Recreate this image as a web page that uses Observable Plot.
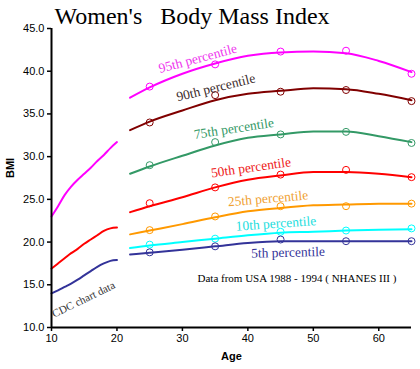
<!DOCTYPE html>
<html><head><meta charset="utf-8">
<script src="https://cdn.jsdelivr.net/npm/d3@7"></script>
<script src="https://cdn.jsdelivr.net/npm/@observablehq/plot@0.6"></script>
<style>body{margin:0;background:#fff}</style>
</head><body><div id="chart"></div>
<script>
// Adult curves (NHANES III)
const adultAges = [22, 25, 30, 35, 40, 45, 50, 55, 60, 65];
const p95 = [36.9, 38.1, 39.7, 40.9, 41.8, 42.2, 42.3, 42.1, 41.2, 39.9];
const p90 = [33.1, 34.1, 35.4, 36.6, 37.35, 37.7, 38.0, 37.9, 37.35, 36.6];
const p75 = [28.0, 28.85, 30.1, 31.3, 32.2, 32.6, 32.95, 32.95, 32.4, 31.7];
const p50 = [23.5, 24.2, 25.25, 26.4, 27.3, 27.8, 28.2, 28.2, 28.0, 27.6];
const p25 = [20.9, 21.35, 22.1, 22.9, 23.6, 24.0, 24.3, 24.4, 24.5, 24.5];
const p10 = [19.3, 19.6, 20.0, 20.4, 20.8, 21.1, 21.2, 21.35, 21.45, 21.5];
const p5  = [18.55, 18.75, 19.1, 19.5, 19.9, 20.1, 20.1, 20.1, 20.1, 20.1];

// Marker points
const markerAges = [25, 35, 45, 55, 65];
const m95 = [38.2, 40.8, 42.3, 42.4, 39.7];
const m90 = [34.0, 37.2, 37.6, 37.8, 36.5];
const m75 = [29.0, 31.7, 32.6, 32.9, 31.6];
const m50 = [24.55, 26.4, 27.9, 28.45, 27.6];
const m25 = [21.4, 23.0, 24.2, 24.2, 24.5];
const m10 = [19.7, 20.4, 21.2, 21.35, 21.6];
const m5  = [18.8, 19.5, 20.3, 20.1, 20.1];

// CDC child curves
const childAges = [10, 11, 12, 13, 14, 15, 16, 17, 18, 19, 20];
const c95 = [23.0, 24.2, 25.5, 26.5, 27.3, 28.0, 28.7, 29.5, 30.2, 31.0, 31.7];
const c50 = [16.9, 17.5, 18.1, 18.7, 19.2, 19.8, 20.3, 20.8, 21.3, 21.6, 21.7];
const c5  = [14.0, 14.35, 14.75, 15.15, 15.6, 16.1, 16.6, 17.1, 17.5, 17.8, 17.9];

const seriesNames = ["95th", "90th", "75th", "50th", "25th", "10th", "5th"];
const labelTexts = ["95th percentile", "90th percentile", "75th percentile", "50th percentile", "25th percentile", "10th percentile", "5th percentile"];
const labelAges = [32.35, 35.1, 37.86, 40.47, 43.07, 44.29, 46.13];
const labelBmi = [41.49, 38.09, 33.29, 28.73, 25.10, 22.17, 18.78];
const labelRot = [-15, -13.8, -8.7, -8, -5, -4, -1.3];

const xTicks = [10, 20, 30, 40, 50, 60];
const yTicks = [10, 15, 20, 25, 30, 35, 40, 45];

const titleText = "Women's\u00a0\u00a0\u00a0Body Mass Index";
const cdcText = "CDC chart data";
const noteText = "Data from USA 1988 - 1994 ( NHANES III )";

// styles
const lineColors = ["#ff00ff", "#800000", "#339966", "#ff0000", "#ff9900", "#00ffff", "#333399"];
const textColors = ["#ee33ee", "#3a2a2a", "#339966", "#ee2222", "#f0a030", "#22dddd", "#333399"];

const adultVals = [p95, p90, p75, p50, p25, p10, p5];
const markVals = [m95, m90, m75, m50, m25, m10, m5];
const adultRows = seriesNames.flatMap((s, i) => adultAges.map((a, j) => ({series: s, age: a, bmi: adultVals[i][j]})));
const markRows = seriesNames.flatMap((s, i) => markerAges.map((a, j) => ({series: s, age: a, bmi: markVals[i][j]})));
const childRows = [["95th", c95], ["50th", c50], ["5th", c5]].flatMap(([s, v]) => childAges.map((a, j) => ({series: s, age: a, bmi: v[j]})));
const labelRows = seriesNames.map((s, i) => ({series: s, text: labelTexts[i], age: labelAges[i], bmi: labelBmi[i], rot: labelRot[i], color: textColors[i]}));

const serif = "'Liberation Serif', 'Times New Roman', serif";
const sans = "'Liberation Sans', Arial, sans-serif";

const chart = Plot.plot({
  width: 420, height: 369,
  marginLeft: 51, marginRight: 9, marginTop: 28, marginBottom: 42,
  style: {fontFamily: sans, fontSize: "11px", background: "#fff", overflow: "visible"},
  x: {domain: [10, 65], axis: null},
  y: {domain: [10, 45], axis: null},
  color: {domain: seriesNames, range: lineColors},
  marks: [
    Plot.line(childRows, {x: "age", y: "bmi", z: "series", stroke: "series", strokeWidth: 2, curve: "monotone-x"}),
    Plot.line(adultRows, {x: "age", y: "bmi", z: "series", stroke: "series", strokeWidth: 2, curve: "monotone-x"}),
    Plot.dot(markRows, {x: "age", y: "bmi", stroke: "series", r: 3.5, strokeWidth: 1, fill: "none"}),
    ...labelRows.map(d => Plot.text([d], {x: "age", y: "bmi", text: "text", rotate: d.rot, fill: d.color, fontFamily: serif, fontSize: 13.5})),
    Plot.text([{t: cdcText, age: 14.9, bmi: 13.28}], {x: "age", y: "bmi", text: "t", rotate: -26, fill: "#333", fontFamily: serif, fontSize: 11}),
    Plot.text([{t: noteText, age: 47.5, bmi: 15.74}], {x: "age", y: "bmi", text: "t", fill: "#000", fontFamily: serif, fontSize: 11}),
    Plot.axisX({ticks: xTicks, tickSize: 4, tickPadding: 3, strokeWidth: 1.5, fontSize: 11, label: null}),
    Plot.axisY({ticks: yTicks, tickSize: 4, tickPadding: 3, strokeWidth: 1.5, fontSize: 11, tickFormat: d3.format(".1f"), label: null}),
    Plot.ruleX([10], {strokeWidth: 2, stroke: "#000"}),
    Plot.ruleY([10], {strokeWidth: 2, stroke: "#000"}),
    Plot.text(["BMI"], {frameAnchor: "left", dx: -41, rotate: -90, fontWeight: "bold", fontSize: 11}),
    Plot.text(["Age"], {frameAnchor: "bottom", dy: 32, fontWeight: "bold", fontSize: 11}),
    Plot.text([titleText], {frameAnchor: "top-left", textAnchor: "start", lineAnchor: "bottom", dx: 3, dy: -5, fontFamily: serif, fontSize: 24, fill: "#000"})
  ]
});
document.getElementById("chart").appendChild(chart);
</script>
</body></html>
